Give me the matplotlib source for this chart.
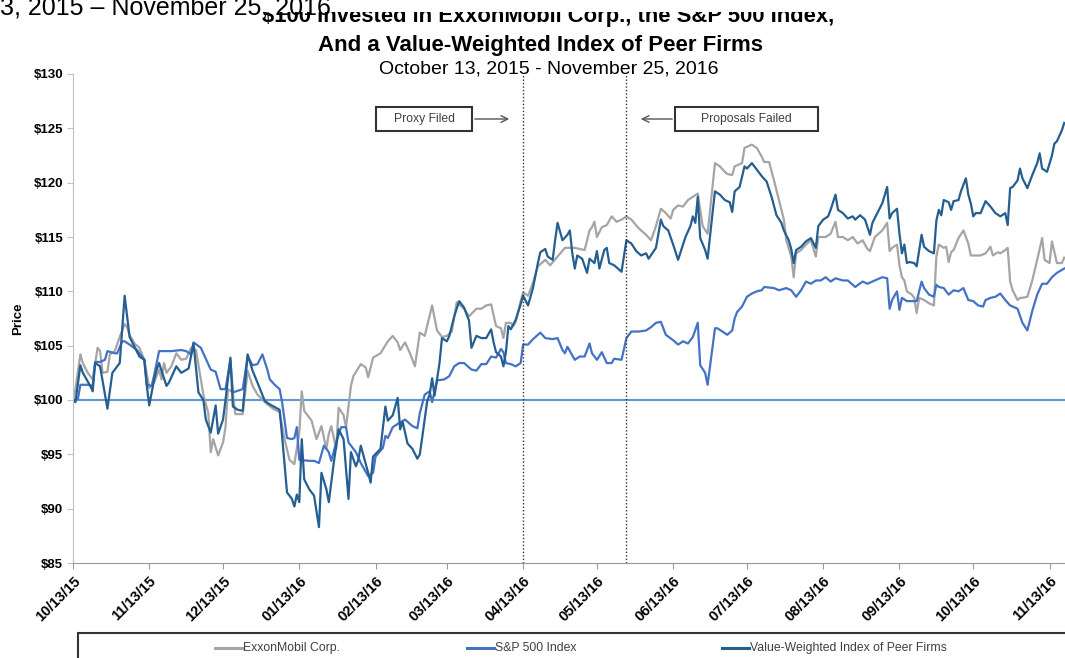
import numpy as np
import pandas as pd
import matplotlib
matplotlib.use("Agg")
import matplotlib.pyplot as plt
from matplotlib.patches import Rectangle, FancyArrowPatch
from matplotlib.lines import Line2D

plt.rcParams['font.family'] = ['Liberation Sans Narrow', 'Liberation Sans', 'DejaVu Sans']

start = pd.Timestamp("2015-10-13")

# days after 10/13/15 and value of $100 invested
exxon_days = [0, 1, 3, 4, 6, 8, 10, 11, 12, 14, 15, 17, 19, 21, 22, 23, 25, 27, 29, 31,
              33, 35, 36, 37, 38, 40, 42, 44, 46, 48, 50, 52, 53, 55, 56, 57, 59, 61, 62, 63,
              65, 66, 69, 71, 73, 75, 79, 82, 84, 86, 88, 90, 92, 93, 94, 97, 99, 101, 103, 104,
              105, 107, 108, 110, 111, 113, 114, 117, 119, 120, 122, 125, 128, 130, 132, 133, 135, 137, 139, 141,
              143, 146, 148, 150, 152, 154, 156, 159, 161, 164, 166, 168, 170, 172, 174, 175, 176, 178, 179, 180,
              182, 183, 185, 187, 189, 192, 194, 197, 200, 204, 208, 210, 211, 212, 213, 215, 217, 219, 221, 223,
              225, 227, 230, 233, 235, 237, 239, 241, 243, 244, 246, 248, 250, 252, 254, 256, 258, 260, 261, 263,
              265, 266, 268, 269, 272, 273, 276, 278, 280, 281, 283, 285, 287, 289, 290, 292, 293, 294, 296, 298,
              300, 302, 303, 306, 308, 310, 311, 313, 315, 317, 319, 321, 323, 324, 326, 329, 331, 332, 333, 335,
              336, 337, 338, 339, 341, 342, 343, 344, 346, 348, 350, 351, 352, 354, 355, 356, 357, 358, 360, 362,
              364, 365, 367, 369, 371, 373, 374, 376, 377, 379, 380, 381, 382, 384, 385, 386, 388, 390, 392, 394,
              395, 397, 398, 400, 402, 403]
exxon_vals = [100.0, 101.0, 104.2, 103.4, 102.5, 101.9, 104.8, 104.5, 102.5, 102.6, 104.2, 104.5, 105.8, 107.0, 106.7, 106.0, 105.2, 104.8, 103.7, 101.1,
              101.6, 102.8, 101.9, 103.4, 102.5, 103.1, 104.3, 103.7, 103.8, 104.8, 104.6, 101.9, 100.5, 98.8, 95.2, 96.4, 94.9, 96.1, 97.5, 101.0,
              100.7, 98.7, 98.7, 102.7, 101.3, 100.5, 99.6, 99.1, 98.9, 96.4, 94.5, 94.1, 97.0, 100.8, 99.0, 98.1, 96.4, 97.6, 95.5, 96.9,
              97.6, 95.5, 99.3, 98.6, 97.5, 101.3, 102.2, 103.3, 103.0, 102.1, 103.9, 104.3, 105.4, 105.9, 105.3, 104.6, 105.3, 104.3, 103.1, 106.2,
              105.9, 108.7, 106.4, 105.8, 105.9, 106.3, 109.0, 108.4, 107.7, 108.4, 108.4, 108.7, 108.8, 106.8, 106.6, 105.7, 107.1, 107.1, 106.8, 107.2,
              109.1, 109.9, 109.6, 110.8, 112.3, 112.9, 112.4, 113.2, 114.0, 114.0, 113.8, 115.6, 115.9, 116.4, 115.0, 115.9, 116.1, 116.9, 116.4, 116.6,
              116.9, 116.6, 115.8, 115.2, 114.7, 116.0, 117.6, 117.2, 116.7, 117.5, 117.9, 117.8, 118.4, 118.7, 119.0, 116.0, 115.3, 119.6, 121.8, 121.5,
              121.0, 120.8, 120.7, 121.5, 121.8, 123.2, 123.5, 123.2, 122.4, 121.9, 121.9, 120.2, 118.4, 116.6, 114.7, 113.2, 111.3, 113.5, 113.8, 114.3,
              114.7, 113.2, 115.0, 115.0, 115.3, 116.4, 115.0, 115.0, 114.7, 115.0, 114.4, 114.7, 113.9, 113.7, 115.0, 115.6, 116.3, 113.7, 114.0, 114.3,
              112.4, 111.3, 111.0, 110.0, 109.7, 109.4, 108.0, 109.4, 109.2, 108.9, 108.7, 113.2, 114.3, 114.0, 114.1, 112.7, 113.6, 113.8, 114.9, 115.6,
              114.4, 113.3, 113.3, 113.3, 113.5, 114.1, 113.3, 113.6, 113.5, 113.8, 114.0, 110.9, 110.1, 109.2, 109.4, 109.4, 109.5, 111.0, 112.9, 114.9,
              112.9, 112.6, 114.6, 112.6, 112.6, 113.1]

sp_days = [0, 2, 3, 6, 8, 9, 11, 13, 14, 17, 18, 20, 21, 23, 26, 29, 30, 32, 33, 35,
           38, 40, 44, 46, 48, 49, 52, 56, 58, 60, 62, 64, 65, 69, 71, 73, 75, 77, 79, 80,
           82, 84, 85, 87, 89, 90, 91, 92, 96, 98, 100, 102, 104, 105, 107, 109, 111, 112, 113, 115,
           117, 119, 120, 122, 123, 126, 127, 128, 130, 132, 135, 138, 140, 141, 143, 145, 146, 148, 151, 153,
           155, 157, 159, 162, 164, 166, 168, 170, 172, 174, 175, 176, 178, 180, 182, 183, 185, 187, 190, 192,
           195, 197, 199, 200, 201, 204, 206, 208, 210, 211, 213, 215, 217, 219, 220, 223, 225, 227, 230, 233,
           235, 237, 239, 241, 244, 246, 248, 250, 252, 254, 255, 257, 258, 260, 261, 262, 264, 266, 268, 269,
           270, 272, 274, 276, 278, 280, 281, 285, 287, 290, 292, 294, 296, 298, 300, 302, 304, 306, 308, 310,
           313, 315, 318, 321, 323, 326, 329, 331, 332, 333, 335, 336, 337, 339, 341, 343, 345, 346, 348, 350,
           351, 352, 354, 356, 358, 360, 362, 364, 366, 368, 370, 371, 373, 375, 377, 379, 381, 384, 386, 388,
           390, 392, 394, 396, 398, 400, 403]
sp_vals = [100.0, 100.1, 101.4, 101.4, 101.3, 103.5, 103.5, 103.7, 104.5, 104.3, 104.3, 105.4, 105.4, 105.1, 104.6, 103.7, 101.4, 101.3, 102.3, 104.5,
           104.5, 104.5, 104.6, 104.5, 104.2, 105.3, 104.8, 102.8, 102.6, 101.0, 101.0, 103.7, 100.7, 101.0, 104.0, 103.2, 103.3, 104.2, 102.8, 101.9,
           101.4, 101.0, 99.8, 96.5, 96.4, 96.5, 97.5, 94.5, 94.4, 94.4, 94.2, 95.8, 95.2, 94.4, 96.1, 97.5, 97.5, 96.1, 95.8, 95.2,
           94.2, 93.4, 93.0, 93.3, 94.8, 95.6, 96.7, 96.5, 97.5, 97.8, 98.2, 97.6, 97.4, 98.8, 100.5, 100.8, 99.8, 101.8, 101.9, 102.2,
           103.1, 103.4, 103.4, 102.8, 102.7, 103.3, 103.3, 104.0, 103.9, 104.7, 104.4, 103.4, 103.3, 103.1, 103.4, 105.1, 105.1, 105.6, 106.2, 105.7,
           105.6, 105.7, 104.6, 104.3, 104.9, 103.7, 104.0, 104.0, 105.2, 104.3, 103.7, 104.4, 103.4, 103.4, 103.8, 103.7, 105.7, 106.3, 106.3, 106.4,
           106.7, 107.1, 107.2, 106.0, 105.5, 105.1, 105.4, 105.2, 105.8, 107.1, 103.2, 102.5, 101.4, 104.9, 106.6, 106.6, 106.3, 106.0, 106.4, 107.5,
           108.1, 108.6, 109.5, 109.8, 110.0, 110.1, 110.4, 110.3, 110.1, 110.3, 110.1, 109.5, 110.1, 110.9, 110.7, 111.0, 111.0, 111.3, 110.9, 111.2,
           111.0, 111.0, 110.4, 110.9, 110.7, 111.0, 111.3, 111.2, 108.4, 109.2, 110.0, 108.3, 109.4, 109.1, 109.1, 109.1, 110.9, 110.3, 109.7, 109.5,
           110.6, 110.4, 110.3, 109.7, 110.1, 110.0, 110.3, 109.2, 109.1, 108.7, 108.6, 109.2, 109.4, 109.5, 109.8, 109.2, 108.7, 108.4, 107.1, 106.4,
           108.2, 109.7, 110.7, 110.7, 111.3, 111.7, 112.1]

peer_days = [0, 1, 3, 4, 7, 8, 9, 11, 14, 16, 19, 21, 23, 25, 27, 29, 30, 31, 33, 34,
             35, 38, 39, 42, 44, 47, 49, 51, 53, 54, 56, 58, 59, 61, 62, 64, 65, 67, 69, 71,
             73, 75, 78, 80, 84, 85, 87, 89, 90, 91, 92, 93, 94, 96, 98, 100, 101, 103, 104, 106,
             108, 110, 112, 113, 115, 116, 117, 120, 121, 122, 125, 127, 128, 130, 132, 133, 134, 136, 138, 140,
             141, 142, 144, 145, 146, 147, 149, 150, 152, 153, 155, 157, 159, 161, 162, 164, 166, 168, 170, 171,
             172, 174, 175, 176, 177, 178, 180, 182, 183, 185, 187, 189, 190, 192, 193, 195, 196, 197, 199, 201,
             202, 203, 204, 205, 207, 209, 210, 212, 213, 214, 216, 217, 218, 220, 223, 225, 227, 229, 231, 233,
             234, 237, 239, 240, 242, 244, 246, 249, 251, 252, 253, 254, 255, 257, 258, 260, 261, 263, 265, 267,
             268, 269, 271, 273, 274, 276, 278, 280, 282, 284, 286, 288, 289, 291, 292, 293, 294, 296, 298, 300,
             302, 303, 305, 307, 308, 310, 311, 313, 315, 317, 318, 320, 322, 324, 325, 327, 329, 331, 332, 333,
             335, 336, 337, 338, 339, 340, 342, 343, 345, 346, 348, 350, 351, 352, 353, 354, 356, 357, 358, 360,
             361, 363, 364, 365, 366, 367, 369, 371, 373, 375, 377, 379, 380, 381, 382, 384, 385, 386, 388, 390,
             392, 393, 394, 396, 398, 399, 400, 402, 403]
peer_vals = [100.0, 99.8, 103.2, 102.5, 101.3, 100.8, 103.4, 103.1, 99.2, 102.5, 103.4, 109.6, 105.8, 104.9, 104.0, 103.7, 101.3, 99.5, 101.9, 102.8,
             103.4, 101.3, 101.6, 103.1, 102.5, 102.9, 105.2, 100.7, 100.0, 98.2, 97.0, 99.5, 96.9, 98.2, 100.0, 103.9, 99.4, 99.1, 99.0, 104.2,
             102.7, 101.6, 99.9, 99.6, 99.1, 96.7, 91.5, 90.9, 90.2, 91.3, 90.6, 96.4, 92.7, 91.8, 91.2, 88.3, 93.3, 91.8, 90.6, 94.2,
             97.3, 96.4, 90.9, 95.2, 93.9, 94.5, 95.8, 93.3, 92.4, 94.8, 95.5, 99.4, 98.1, 98.6, 100.2, 97.3, 98.0, 96.0, 95.5, 94.6,
             95.0, 96.6, 99.9, 100.5, 102.0, 100.4, 103.4, 105.7, 105.4, 105.9, 107.7, 109.1, 108.5, 107.3, 104.8, 105.9, 105.7, 105.7, 106.5, 105.3,
             104.4, 104.0, 103.1, 104.4, 106.8, 106.5, 107.4, 108.8, 109.6, 108.7, 110.3, 112.6, 113.6, 113.9, 113.2, 112.9, 114.7, 116.3, 114.7, 115.2,
             115.6, 113.5, 112.1, 113.3, 113.0, 111.7, 113.0, 112.6, 113.7, 112.1, 113.8, 114.0, 112.6, 112.4, 111.8, 114.7, 114.4, 113.7, 113.3, 113.5,
             113.0, 114.0, 116.6, 116.0, 115.6, 114.3, 112.9, 115.0, 116.0, 116.9, 116.3, 118.7, 114.9, 113.8, 113.0, 117.2, 119.2, 118.9, 118.4, 118.2,
             117.3, 119.2, 119.6, 121.5, 121.3, 121.8, 121.2, 120.6, 120.1, 118.7, 117.0, 116.3, 115.6, 114.7, 113.9, 112.6, 113.8, 114.1, 114.6, 114.9,
             114.0, 116.0, 116.6, 116.9, 117.5, 118.9, 117.5, 117.2, 116.7, 116.9, 116.6, 117.0, 116.6, 115.2, 116.3, 117.2, 118.1, 119.6, 116.7, 117.2,
             117.6, 115.3, 113.5, 114.3, 112.6, 112.7, 112.6, 112.3, 115.2, 114.1, 113.7, 113.5, 116.5, 117.5, 117.0, 118.4, 118.2, 117.5, 118.3, 118.4,
             119.2, 120.4, 118.9, 118.1, 116.9, 117.2, 117.2, 118.3, 117.8, 117.2, 116.9, 117.2, 116.1, 119.5, 119.6, 120.2, 121.3, 120.4, 119.5, 120.7,
             121.8, 122.7, 121.3, 121.0, 122.5, 123.6, 123.8, 124.8, 125.5]

series_names = ["ExxonMobil Corp.", "S&P 500 Index", "Value-Weighted Index of Peer Firms"]
series_colors = ["#a5a5a5", "#4472c4", "#255e91"]

event_dates = ["2016-04-13", "2016-05-25"]
tick_dates = pd.date_range("2015-10-13", periods=14, freq=pd.DateOffset(months=1))
tick_labels = [d.strftime("%m/%d/%y") for d in tick_dates]
y_ticks = list(range(85, 131, 5))
y_labels = ["$%d" % v for v in y_ticks]

W, H = 1065, 658


def fx(x):
    return x / W


def fy(y):
    return 1 - y / H


def days_to_dates(days):
    return start + pd.to_timedelta(np.array(days), unit="D")


fig = plt.figure(figsize=(W / 100, H / 100), dpi=100)
fig.patch.set_facecolor("white")
ax = fig.add_axes([fx(73), fy(563), fx(W - 73), (563 - 74) / H])

ax.axhline(100, color="#5b9bd5", lw=1.5, zorder=1)
for days, vals, col in zip([exxon_days, sp_days, peer_days], [exxon_vals, sp_vals, peer_vals], series_colors):
    ax.plot(days_to_dates(days), vals, color=col, lw=1.6, zorder=2)

for d in event_dates:
    ax.axvline(pd.Timestamp(d), color="#333333", lw=1.0, ls=(0, (1, 1.5)), zorder=3)

ax.set_xlim(start, start + pd.Timedelta(days=403.3))
ax.set_ylim(85, 130)
ax.set_xticks(tick_dates)
ax.set_xticklabels(tick_labels, rotation=45, ha="right", rotation_mode="anchor",
                   fontweight="bold", fontsize=10.5)
ax.set_yticks(y_ticks)
ax.set_yticklabels(y_labels, fontweight="bold", fontsize=9.5)
ax.tick_params(axis="x", length=4, color="#999999", pad=4)
ax.tick_params(axis="y", length=4, color="#bfbfbf", pad=3)
for s in ["top", "right"]:
    ax.spines[s].set_visible(False)
ax.spines["left"].set_color("#bfbfbf")
ax.spines["bottom"].set_color("#999999")
ax.set_ylabel("Price", fontweight="bold", fontsize=9.5, labelpad=7)

# titles; the top line is half hidden behind a white text box in the original
fig.text(fx(548), fy(22), "$100 Invested in ExxonMobil Corp., the S&P 500 Index,",
         ha="center", va="baseline", fontsize=15.8, fontweight="bold", zorder=1)
fig.patches.append(Rectangle((0, fy(12)), 1, 12 / H, transform=fig.transFigure,
                             facecolor="white", edgecolor="none", zorder=2))
fig.text(fx(0), fy(15), "3, 2015 \u2013 November 25, 2016", ha="left", va="baseline",
         fontsize=18, family=["Liberation Sans", "DejaVu Sans"], zorder=3)
fig.text(fx(540), fy(51), "And a Value-Weighted Index of Peer Firms",
         ha="center", va="baseline", fontsize=16, fontweight="bold")
fig.text(fx(549), fy(74), "October 13, 2015 - November 25, 2016",
         ha="center", va="baseline", fontsize=14)

# event boxes with arrows
boxes = [(376, 472, "Proxy Filed", 472, 512), (675, 818, "Proposals Failed", 675, 638)]
for x0, x1, txt, a0, a1 in boxes:
    fig.patches.append(Rectangle((fx(x0), fy(131)), (x1 - x0) / W, 24 / H, transform=fig.transFigure,
                                 facecolor="white", edgecolor="#333333", lw=1.5))
    fig.text(fx((x0 + x1) / 2), fy(119), txt, ha="center", va="center", fontsize=8.7, color="#404040")
    fig.add_artist(FancyArrowPatch((fx(a0), fy(119)), (fx(a1), fy(119)),
                                   transform=fig.transFigure, arrowstyle="->",
                                   mutation_scale=12, color="#555555", lw=1))

# legend box at the bottom
fig.patches.append(Rectangle((fx(78), fy(680)), (1090 - 78) / W, 47 / H, transform=fig.transFigure,
                             facecolor="white", edgecolor="#333333", lw=1.5, clip_on=False))
leg_x = [215, 467, 722]
for x0, name, col in zip(leg_x, series_names, series_colors):
    fig.add_artist(Line2D([fx(x0), fx(x0 + 27)], [fy(648), fy(648)], transform=fig.transFigure,
                          color=col, lw=2.2))
    fig.text(fx(x0 + 28), fy(648), name, ha="left", va="center", fontsize=8.8, color="#404040")

fig.savefig("out.png", dpi=100)
